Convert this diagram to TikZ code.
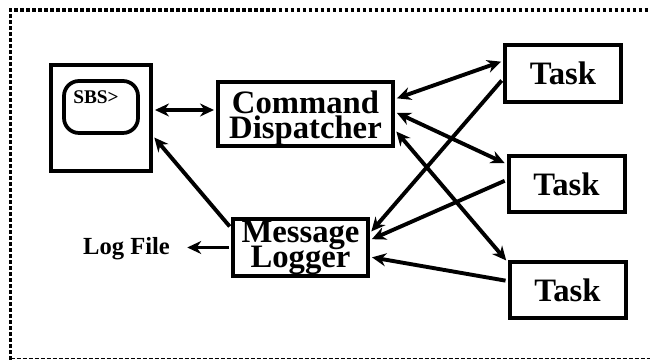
\documentclass[tikz,border=0pt]{standalone}
\usepackage{fontspec}
\setmainfont{Liberation Serif}
\usetikzlibrary{arrows.meta}
\newcommand{\tightlines}{\lineskiplimit=-20pt\relax}
\tikzset{>={Stealth[length=2.8mm,width=2.6mm]}}
\tikzset{
  block/.style={draw,line width=0.8mm,inner sep=0pt,align=center,font=\bfseries\fontsize{18.6}{14.2}\selectfont\tightlines},
  link/.style={line width=0.78mm,shorten >=0.4mm,shorten <=0.4mm}
}

\begin{document}
\begin{tikzpicture}
            \useasboundingbox (0,0) rectangle (13,7.2);
            \draw[line width=0.75mm,dash pattern=on 0.75mm off 0.45mm] (0.21,0) -- (0.21,7) -- (13,7);
            \draw[line width=0.2mm,dash pattern=on 0.8mm off 0.4mm] (0.21,0.02) -- (13,0.02);
            % terminal and its screen
            \node[draw,line width=0.8mm,minimum width=2.0cm,minimum height=2.12cm,inner sep=0pt] (term) at (2.02,4.84) {};
            \node[draw,line width=0.75mm,rounded corners=3mm,minimum width=1.48cm,minimum height=1.04cm,inner sep=0pt] (screen) at (2.02,5.06) {};
            \node[font=\bfseries\fontsize{11}{11}\selectfont,inner sep=0pt] (prompt) at (1.92,5.26) {SBS>};
            % blocks
            \node[block,minimum width=3.5cm,minimum height=1.16cm] (cmd) at (6.11,4.92) {\rule{0pt}{18pt}Command\\Dispatcher};
            \node[block,minimum width=2.7cm,minimum height=1.14cm] (log) at (6.01,2.25) {Message\\Logger};
            \node[block,minimum width=2.32cm,minimum height=1.14cm] (task1) at (11.26,5.73) {Task};
            \node[block,minimum width=2.32cm,minimum height=1.12cm] (task2) at (11.33,3.52) {Task};
            \node[block,minimum width=2.32cm,minimum height=1.12cm] (task3) at (11.35,1.4) {Task};
            \node[font=\bfseries\fontsize{14}{14}\selectfont,inner sep=0pt] (file) at (2.53,2.22) {Log File};
            % connectors
            \draw[link,<->] ([yshift=1.6mm]term.east) -- ([yshift=0.8mm]cmd.west);
            \draw[link,->] ([yshift=3.9mm]log.west) -- ([yshift=-3.6mm]term.east);
            \draw[link,<->] ([yshift=3mm]cmd.east) -- ([yshift=2.5mm]task1.west);
            \draw[link,<->] ([yshift=0.4mm]cmd.east) -- ([yshift=4mm]task2.west);
            \draw[link,<->] ([yshift=-3.2mm]cmd.east) -- ([yshift=5.6mm]task3.west);
            \draw[link,->] ([yshift=-1.1mm]task1.west) -- ([yshift=2.9mm]log.east);
            \draw[link,->] ([yshift=0.8mm]task2.west) -- ([yshift=1.5mm]log.east);
            \draw[link,->] ([yshift=1.8mm]task3.west) -- ([yshift=-1.9mm]log.east);
            \draw[link,shorten >=3.4mm,->] (log.west) -- (log.west -| file.east);
\end{tikzpicture}
\end{document}
